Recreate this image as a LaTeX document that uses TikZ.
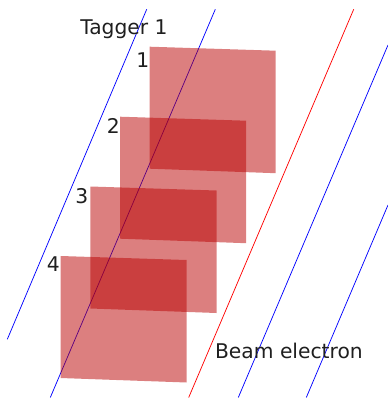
\documentclass[tikz,border=0pt]{standalone}
\usepackage{fontspec}
\setmainfont{DejaVu Sans}
\definecolor{taggerblue}{HTML}{0000FF}
\definecolor{beamred}{HTML}{FF0000}
\definecolor{panelred}{HTML}{B90000}
\begin{document}
\begin{tikzpicture}[
  x=0.75pt,
  y=-0.75pt,
  line join=round,
  tagger/.style={draw=taggerblue,line width=0.55pt},
  beam/.style={draw=beamred,line width=0.55pt},
  panel/.style={fill=panelred,fill opacity=0.5},
  label/.style={anchor=base west,inner sep=0pt,text=black!88,font=\fontsize{15.2}{15.2}\selectfont}
]
  % Match the artwork frame.
  \useasboundingbox (0,0) rectangle (388,400);

  % End points of the tracks.
  \coordinate (t1a) at (146.7,9.3);
  \coordinate (t1b) at (7.3,339.3);
  \coordinate (t2a) at (215.3,9.3);
  \coordinate (t2b) at (50.3,397.5);
  \coordinate (ba) at (353.7,9.3);
  \coordinate (bb) at (188.7,397.5);
  \coordinate (t3a) at (388,45);
  \coordinate (t3b) at (238.3,397.5);
  \coordinate (t4a) at (388,205);
  \coordinate (t4b) at (306.3,397.5);

  % Tracks go first so the panels tint them.
  \foreach \a/\b in {t1a/t1b,t2a/t2b,t3a/t3b,t4a/t4b} {
    \draw[tagger] (\a) -- (\b);
  }
  \draw[beam] (ba) -- (bb);

  % Four overlapping panels, top one first.
  \foreach \x/\y in {149.5/46.7,120/116.7,90.3/186.5,60.5/256} {
    \fill[panel] (\x,\y) -- ++(126.2,4) -- ++(0,122.5) -- ++(-126.2,-4.5) -- cycle;
  }

  % Labels.
  \node[label] (tagger) at (80,34.7) {Tagger 1};
  \node[label] (n1) at (136,67.5) {1};
  \node[label] (n2) at (106.5,133) {2};
  \node[label] (n3) at (75,203) {3};
  \node[label] (n4) at (46.5,271.7) {4};
  \node[label] (beamlabel) at (214.8,358.3) {Beam electron};
\end{tikzpicture}
\end{document}
